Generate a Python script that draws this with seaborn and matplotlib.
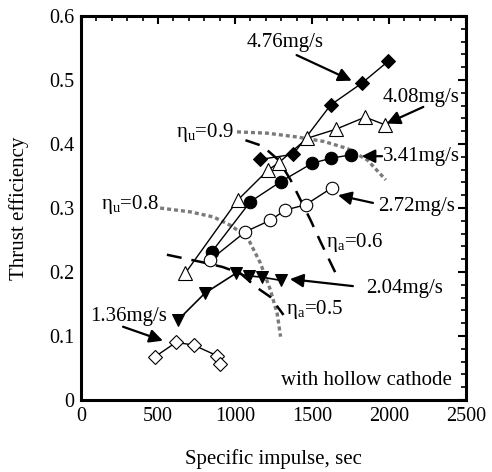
import matplotlib
matplotlib.use("Agg")
import matplotlib.pyplot as plt
import seaborn as sns
import numpy as np
import pandas as pd
from matplotlib.ticker import MultipleLocator

sns.set_theme(style="white")
plt.rcParams['font.family'] = ['Liberation Serif', 'DejaVu Serif']
plt.rcParams['mathtext.fontset'] = 'custom'
plt.rcParams['mathtext.rm'] = 'Liberation Serif'
plt.rcParams['text.color'] = 'black'
plt.rcParams['axes.labelcolor'] = 'black'
plt.rcParams['xtick.color'] = 'black'
plt.rcParams['ytick.color'] = 'black'

# ---- data ----
isp_476 = [1165, 1378, 1621, 1823, 1993]
eff_476 = [0.376, 0.384, 0.461, 0.495, 0.529]

isp_408 = [677, 1018, 1213, 1285, 1469, 1654, 1845, 1975]
eff_408 = [0.198, 0.3125, 0.359, 0.371, 0.409, 0.423, 0.442, 0.430]

isp_341 = [851, 1100, 1296, 1502, 1626, 1751]
eff_341 = [0.232, 0.310, 0.341, 0.370, 0.378, 0.383]

isp_272 = [840, 1068, 1230, 1328, 1458, 1632]
eff_272 = [0.219, 0.263, 0.281, 0.297, 0.305, 0.332]

isp_204 = [630, 805, 1006, 1089, 1176, 1296]
eff_204 = [0.125, 0.167, 0.198, 0.194, 0.192, 0.187]

isp_136 = [483, 617, 731, 885, 903]
eff_136 = [0.068, 0.090, 0.086, 0.069, 0.057]

# constant-efficiency curves
isp_u09 = [1013, 1209, 1404, 1578, 1730, 1860, 1979]
eff_u09 = [0.419, 0.417, 0.411, 0.404, 0.393, 0.375, 0.344]

isp_u08 = [514, 710, 861, 970, 1079, 1165, 1230, 1274, 1296]
eff_u08 = [0.300, 0.294, 0.286, 0.273, 0.255, 0.214, 0.172, 0.135, 0.099]

isp_a06 = [1068, 1178, 1283, 1361, 1426, 1491, 1556, 1654]
eff_a06 = [0.406, 0.397, 0.375, 0.344, 0.3125, 0.281, 0.247, 0.198]

isp_a05 = [558, 775, 918, 1035, 1146, 1230, 1315]
eff_a05 = [0.227, 0.216, 0.208, 0.198, 0.175, 0.161, 0.133]

series_labels = ["4.76mg/s", "4.08mg/s", "3.41mg/s", "2.72mg/s", "2.04mg/s", "1.36mg/s"]

fig = plt.figure(figsize=(4.92, 4.72), dpi=100)
ax = fig.add_axes([0.1646, 0.1525, 0.7825, 0.8135])

def curve(x, y, **kw):
    df = pd.DataFrame({"x": x, "y": y})
    sns.lineplot(data=df, x="x", y="y", ax=ax, sort=False, estimator=None, legend=False, **kw)

# guide curves
curve(isp_u09, eff_u09, color="#7a7a7a", lw=2.4, dashes=(1.2, 0.9))
curve(isp_u08, eff_u08, color="#7a7a7a", lw=2.4, dashes=(1.2, 0.9))
curve(isp_a06, eff_a06, color="black", lw=1.8, dashes=(6, 4))
curve(isp_a05, eff_a05, color="black", lw=1.8, dashes=(6, 4))

# data series
curve(isp_476, eff_476, color="black", lw=1, marker="D", ms=7, mfc="black", mec="black")
curve(isp_408, eff_408, color="black", lw=1, marker="^", ms=9.5, mfc="white", mec="black", mew=0.8)
curve(isp_341, eff_341, color="black", lw=1, marker="o", ms=9, mfc="black", mec="black")
curve(isp_272, eff_272, color="black", lw=1, marker="o", ms=9, mfc="white", mec="black", mew=0.8)
curve(isp_204, eff_204, color="black", lw=1.2, marker="v", ms=8.5, mfc="black", mec="black")
curve(isp_136, eff_136, color="black", lw=1, marker="D", ms=7, mfc="white", mec="black", mew=0.8)

fs = 15
ap = dict(arrowstyle="-|>", color="black", lw=1.6, mutation_scale=20, shrinkA=0, shrinkB=0)

def arrow(label, text_xy, tail, head, ha="center"):
    ax.annotate("", xy=head, xytext=tail, arrowprops=ap)
    ax.text(text_xy[0], text_xy[1], label, ha=ha, va="center", fontsize=fs, color="black")

arrow(series_labels[0], (1325, 0.558), (1400, 0.539), (1758, 0.499))
arrow(series_labels[1], (2208, 0.473), (2223, 0.458), (1985, 0.432))
arrow(series_labels[2], (1961, 0.380), (1955, 0.381), (1823, 0.381), ha="left")
arrow(series_labels[3], (2179, 0.302), (1896, 0.308), (1669, 0.320))
arrow(series_labels[4], (2101, 0.1745), (1766, 0.178), (1357, 0.189))
arrow(series_labels[5], (308, 0.130), (273, 0.1145), (532, 0.0927))

ax.text(805, 0.418, r"$\mathregular{\eta_u}$=0.9", ha="center", va="center", fontsize=fs)
ax.text(315, 0.306, r"$\mathregular{\eta_u}$=0.8", ha="center", va="center", fontsize=fs)
ax.text(1779, 0.246, r"$\mathregular{\eta_a}$=0.6", ha="center", va="center", fontsize=fs)
ax.text(1519, 0.142, r"$\mathregular{\eta_a}$=0.5", ha="center", va="center", fontsize=fs)
ax.text(1854, 0.031, "with hollow cathode", ha="center", va="center", fontsize=fs)

ax.set_xlim(0, 2500)
ax.set_ylim(0, 0.6)
ax.xaxis.set_major_locator(MultipleLocator(500))
ax.xaxis.set_minor_locator(MultipleLocator(100))
ax.yaxis.set_major_locator(MultipleLocator(0.1))
ax.yaxis.set_minor_locator(MultipleLocator(0.02))
ax.xaxis.set_major_formatter(matplotlib.ticker.FuncFormatter(lambda v, p: f"{v:.0f}"))
ax.yaxis.set_major_formatter(matplotlib.ticker.FuncFormatter(lambda v, p: "0" if v == 0 else f"{v:.1f}"))
ax.tick_params(which="both", direction="in", top=True, right=True, color="black", labelsize=14.5, labelcolor="black")
ax.tick_params(which="major", length=6, width=1.5, pad=5)
ax.tick_params(which="minor", length=3.5, width=1.2)
for s in ax.spines.values():
    s.set_linewidth(2.2)
    s.set_color("black")
    s.set_visible(True)
ax.set_xlabel("Specific impulse, sec", fontsize=fs, labelpad=17, color="black")
ax.set_ylabel("Thrust efficiency", fontsize=fs, labelpad=14, color="black")
ax.set_facecolor("white")
fig.patch.set_facecolor("white")

fig.savefig("out.png", dpi=100)
